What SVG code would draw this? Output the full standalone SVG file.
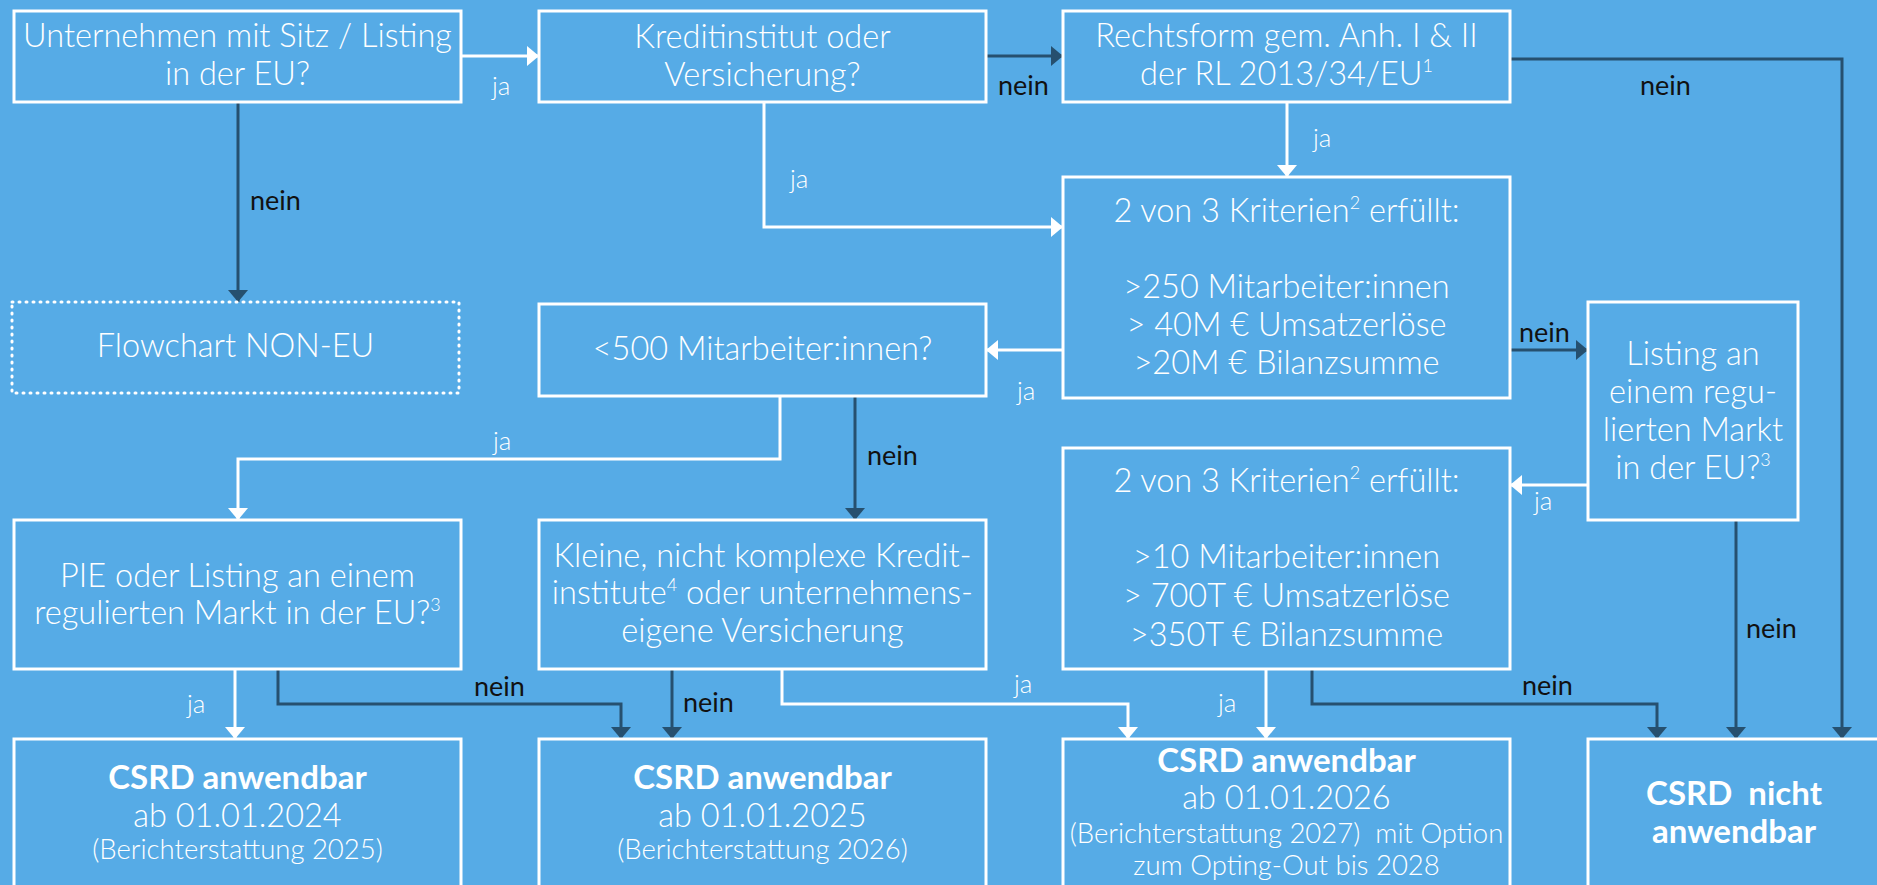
<svg xmlns="http://www.w3.org/2000/svg" width="1877" height="885" viewBox="0 0 1877 885">
<defs>
<style>
.box{fill:none;stroke:#ffffff;stroke-width:3}
.dot{fill:none;stroke:#ffffff;stroke-width:3;stroke-dasharray:1 6;stroke-linecap:round}
.t{font-family:Lato,"Liberation Sans",sans-serif;font-weight:300;font-size:32.5px;fill:#ffffff;text-anchor:middle}
.s{font-size:27.5px}
.b{font-weight:700;font-size:33px}
.sup{font-size:18px}
.w{fill:none;stroke:#ffffff;stroke-width:3}
.d{fill:none;stroke:#26506f;stroke-width:3}
.lj{font-family:Lato,"Liberation Sans",sans-serif;font-weight:300;font-size:26px;fill:#ffffff}
.ln{font-family:Lato,"Liberation Sans",sans-serif;font-weight:400;font-size:27px;fill:#111111}
</style>
<marker id="aw" viewBox="0 0 12 20" refX="12" refY="10" markerWidth="12" markerHeight="20" markerUnits="userSpaceOnUse" orient="auto"><path d="M0,0 L12,10 L0,20 Z" fill="#ffffff"/></marker>
<marker id="ad" viewBox="0 0 12 20" refX="12" refY="10" markerWidth="12" markerHeight="20" markerUnits="userSpaceOnUse" orient="auto"><path d="M0,0 L12,10 L0,20 Z" fill="#26506f"/></marker>
</defs>
<rect x="0" y="0" width="1877" height="885" fill="#56abe6"/>

<g id="connectors">
<path class="w" d="M461,56 H539" marker-end="url(#aw)"/>
<path class="w" d="M764,102 V227 H1063" marker-end="url(#aw)"/>
<path class="w" d="M1287,102 V177" marker-end="url(#aw)"/>
<path class="w" d="M1063,350 H986" marker-end="url(#aw)"/>
<path class="w" d="M780,396 V459 H238 V520" marker-end="url(#aw)"/>
<path class="w" d="M235,669 V739" marker-end="url(#aw)"/>
<path class="w" d="M782,669 V704 H1128 V739" marker-end="url(#aw)"/>
<path class="w" d="M1588,485 H1510" marker-end="url(#aw)"/>
<path class="w" d="M1266,669 V739" marker-end="url(#aw)"/>
<path class="d" d="M238,102 V302" marker-end="url(#ad)"/>
<path class="d" d="M986,56 H1063" marker-end="url(#ad)"/>
<path class="d" d="M1510,59 H1842 V739" marker-end="url(#ad)"/>
<path class="d" d="M1510,350 H1588" marker-end="url(#ad)"/>
<path class="d" d="M855,396 V520" marker-end="url(#ad)"/>
<path class="d" d="M278,669 V704 H621 V739" marker-end="url(#ad)"/>
<path class="d" d="M672,669 V739" marker-end="url(#ad)"/>
<path class="d" d="M1736,520 V739" marker-end="url(#ad)"/>
<path class="d" d="M1312,669 V704 H1657 V739" marker-end="url(#ad)"/>
<text class="lj" x="492" y="95">ja</text>
<text class="ln" x="250" y="210">nein</text>
<text class="ln" x="998" y="95">nein</text>
<text class="lj" x="790" y="188">ja</text>
<text class="lj" x="1313" y="147">ja</text>
<text class="ln" x="1640" y="95">nein</text>
<text class="lj" x="1017" y="400">ja</text>
<text class="ln" x="1519" y="342">nein</text>
<text class="lj" x="493" y="450">ja</text>
<text class="ln" x="867" y="465">nein</text>
<text class="lj" x="1534" y="510">ja</text>
<text class="ln" x="1746" y="638">nein</text>
<text class="lj" x="187" y="713">ja</text>
<text class="ln" x="474" y="696">nein</text>
<text class="ln" x="683" y="712">nein</text>
<text class="lj" x="1014" y="693">ja</text>
<text class="lj" x="1218" y="712">ja</text>
<text class="ln" x="1522" y="695">nein</text>
</g>

<g id="n1"><rect class="box" x="14" y="11" width="447" height="91"/>
<text class="t" x="237.5" y="47">Unternehmen mit Sitz / Listing</text>
<text class="t" x="237.5" y="85">in der EU?</text></g>

<g id="n2"><rect class="box" x="539" y="11" width="447" height="91"/>
<text class="t" x="762.5" y="48">Kreditinstitut oder</text>
<text class="t" x="762.5" y="86">Versicherung?</text></g>

<g id="n3"><rect class="box" x="1063" y="11" width="447" height="91"/>
<text class="t" x="1286.5" y="47">Rechtsform gem. Anh. I &amp; II</text>
<text class="t" x="1286.5" y="85">der RL 2013/34/EU<tspan class="sup" dy="-13">1</tspan></text></g>

<g id="nonEU"><rect class="dot" x="12" y="302" width="447" height="91"/>
<text class="t" x="235.5" y="357">Flowchart NON-EU</text></g>

<g id="n500"><rect class="box" x="539" y="304" width="447" height="92"/>
<text class="t" x="762.5" y="360">&lt;500 Mitarbeiter:innen?</text></g>

<g id="crit1"><rect class="box" x="1063" y="177" width="447" height="221"/>
<text class="t" x="1286.5" y="222">2 von 3 Kriterien<tspan class="sup" dy="-13">2</tspan><tspan dy="13"> erfüllt:</tspan></text>
<text class="t" x="1286.5" y="298">&gt;250 Mitarbeiter:innen</text>
<text class="t" x="1286.5" y="336">&gt; 40M € Umsatzerlöse</text>
<text class="t" x="1286.5" y="374">&gt;20M € Bilanzsumme</text></g>

<g id="listing"><rect class="box" x="1588" y="302" width="210" height="218"/>
<text class="t" x="1693" y="365">Listing an</text>
<text class="t" x="1693" y="403">einem regu-</text>
<text class="t" x="1693" y="441">lierten Markt</text>
<text class="t" x="1693" y="479">in der EU?<tspan class="sup" dy="-13">3</tspan></text></g>

<g id="crit2"><rect class="box" x="1063" y="448" width="447" height="221"/>
<text class="t" x="1286.5" y="492">2 von 3 Kriterien<tspan class="sup" dy="-13">2</tspan><tspan dy="13"> erfüllt:</tspan></text>
<text class="t" x="1286.5" y="568">&gt;10 Mitarbeiter:innen</text>
<text class="t" x="1286.5" y="607">&gt; 700T € Umsatzerlöse</text>
<text class="t" x="1286.5" y="646">&gt;350T € Bilanzsumme</text></g>

<g id="pie"><rect class="box" x="14" y="520" width="447" height="149"/>
<text class="t" x="237.5" y="587">PIE oder Listing an einem</text>
<text class="t" x="237.5" y="624">regulierten Markt in der EU?<tspan class="sup" dy="-13">3</tspan></text></g>

<g id="kleine"><rect class="box" x="539" y="520" width="447" height="149"/>
<text class="t" x="762.5" y="567">Kleine, nicht komplexe Kredit-</text>
<text class="t" x="762.5" y="604">institute<tspan class="sup" dy="-13">4</tspan><tspan dy="13"> oder unternehmens-</tspan></text>
<text class="t" x="762.5" y="642">eigene Versicherung</text></g>

<g id="csrd1"><rect class="box" x="14" y="739" width="447" height="160"/>
<text class="t b" x="237.5" y="789">CSRD anwendbar</text>
<text class="t" x="237.5" y="827">ab 01.01.2024</text>
<text class="t s" x="237.5" y="859">(Berichterstattung 2025)</text></g>

<g id="csrd2"><rect class="box" x="539" y="739" width="447" height="160"/>
<text class="t b" x="762.5" y="789">CSRD anwendbar</text>
<text class="t" x="762.5" y="827">ab 01.01.2025</text>
<text class="t s" x="762.5" y="859">(Berichterstattung 2026)</text></g>

<g id="csrd3"><rect class="box" x="1063" y="739" width="447" height="160"/>
<text class="t b" x="1286.5" y="772">CSRD anwendbar</text>
<text class="t" x="1286.5" y="809">ab 01.01.2026</text>
<text class="t s" x="1286.5" y="843" xml:space="preserve">(Berichterstattung 2027)  mit Option</text>
<text class="t s" x="1286.5" y="875">zum Opting-Out bis 2028</text></g>

<g id="nicht"><rect class="box" x="1588" y="739" width="300" height="160"/>
<text class="t b" x="1734" y="805" xml:space="preserve">CSRD  nicht</text>
<text class="t b" x="1734" y="843">anwendbar</text></g>
</svg>
